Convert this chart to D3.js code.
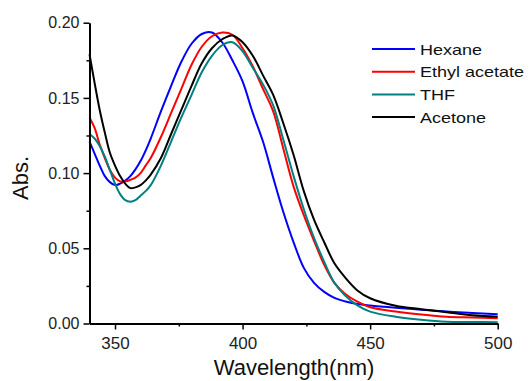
<!DOCTYPE html>
<html>
<head>
<meta charset="utf-8">
<script src="https://cdn.jsdelivr.net/npm/d3@7"></script>
<style>
  body { margin: 0; background: #fff; }
  svg { display: block; font-family: "Liberation Sans", Arial, sans-serif; }
</style>
</head>
<body>
<div id="chart"></div>
<script>
// wavelengths (nm) shared by all series
const wavelengths = [340, 342, 344, 346, 348, 350, 352, 354, 356, 358, 360, 362, 364, 368, 372, 376, 380, 384, 388, 392, 396, 400, 404, 408, 412, 416, 420, 424, 428, 432, 436, 440, 445, 450, 460, 470, 480, 490, 500];

const hexane = [0.121, 0.113, 0.105, 0.098, 0.094, 0.092, 0.093, 0.095, 0.098, 0.1025, 0.108, 0.115, 0.123, 0.141, 0.158, 0.174, 0.186, 0.1925, 0.1935, 0.187, 0.175, 0.161, 0.140, 0.121, 0.097, 0.074, 0.054, 0.037, 0.027, 0.021, 0.017, 0.0148, 0.0130, 0.0120, 0.0105, 0.0092, 0.0079, 0.0070, 0.0061];
const ethylAcetate = [0.137, 0.130, 0.119, 0.110, 0.102, 0.097, 0.0945, 0.0945, 0.0955, 0.097, 0.100, 0.105, 0.110, 0.124, 0.140, 0.156, 0.172, 0.184, 0.191, 0.1935, 0.192, 0.183, 0.171, 0.156, 0.141, 0.116, 0.091, 0.072, 0.055, 0.039, 0.027, 0.020, 0.0145, 0.0108, 0.0080, 0.0060, 0.0045, 0.0040, 0.0035];
const thf = [0.126, 0.123, 0.118, 0.111, 0.102, 0.093, 0.086, 0.082, 0.081, 0.082, 0.085, 0.088, 0.092, 0.105, 0.121, 0.137, 0.152, 0.167, 0.178, 0.185, 0.187, 0.181, 0.170, 0.159, 0.145, 0.122, 0.098, 0.076, 0.057, 0.041, 0.027, 0.019, 0.012, 0.0079, 0.0045, 0.0025, 0.0012, 0.0010, 0.0008];
const acetone = [0.179, 0.160, 0.142, 0.127, 0.1135, 0.105, 0.098, 0.093, 0.090, 0.0905, 0.092, 0.095, 0.099, 0.110, 0.126, 0.142, 0.158, 0.173, 0.183, 0.189, 0.1915, 0.187, 0.178, 0.165, 0.152, 0.133, 0.112, 0.088, 0.069, 0.054, 0.040, 0.031, 0.022, 0.0168, 0.0118, 0.0095, 0.0075, 0.0055, 0.0045];

const seriesNames = ["Hexane", "Ethyl acetate", "THF", "Acetone"];
const seriesColors = ["#0000ff", "#ff0000", "#008080", "#000000"];
const seriesValues = [hexane, ethylAcetate, thf, acetone];

const xTicks = [350, 400, 450, 500];
const xMinorTicks = [375, 425, 475];
const yTicks = [0, 0.05, 0.10, 0.15, 0.20];
const yMinorTicks = [0.025, 0.075, 0.125, 0.175];

const width = 532, height = 381;

const svg = d3.select("#chart")
  .append("svg")
  .attr("width", width)
  .attr("height", height);

// scales
const x = d3.scaleLinear().domain([340, 500]).range([89.5, 497.7]);
const y = d3.scaleLinear().domain([0, 0.2]).range([323.5, 22.7]);

// curves
const line = d3.line()
  .x(d => x(d[0]))
  .y(d => y(d[1]))
  .curve(d3.curveCatmullRom);

seriesValues.forEach((vals, i) => {
  svg.append("path")
    .datum(wavelengths.map((w, j) => [w, vals[j]]))
    .attr("fill", "none")
    .attr("stroke", seriesColors[i])
    .attr("stroke-width", 2)
    .attr("d", line);
});

// axes
const styleAxis = g => {
  g.select(".domain").attr("stroke", "#000").attr("stroke-width", 2);
  g.selectAll(".tick line").attr("stroke", "#000").attr("stroke-width", 1.5);
  g.selectAll(".tick text").attr("fill", "#222");
};

svg.append("g")
  .attr("transform", `translate(0,${y(0)})`)
  .call(d3.axisBottom(x).tickValues(xTicks).tickSize(6).tickSizeOuter(0).tickPadding(7).tickFormat(d3.format("d")))
  .attr("font-size", 17)
  .attr("font-family", null)
  .call(styleAxis);

svg.append("g")
  .attr("transform", `translate(0,${y(0)})`)
  .call(d3.axisBottom(x).tickValues(xMinorTicks).tickSize(3).tickSizeOuter(0).tickFormat(""))
  .call(g => g.select(".domain").remove())
  .call(styleAxis);

svg.append("g")
  .attr("transform", `translate(${x(340)},0)`)
  .call(d3.axisLeft(y).tickValues(yTicks).tickSize(6).tickSizeOuter(0).tickPadding(4).tickFormat(d3.format(".2f")))
  .attr("font-size", 16)
  .attr("font-family", null)
  .call(styleAxis);

svg.append("g")
  .attr("transform", `translate(${x(340)},0)`)
  .call(d3.axisLeft(y).tickValues(yMinorTicks).tickSize(3).tickSizeOuter(0).tickFormat(""))
  .call(g => g.select(".domain").remove())
  .call(styleAxis);

// axis titles
svg.append("text")
  .attr("x", 294)
  .attr("y", 375)
  .attr("text-anchor", "middle")
  .attr("font-size", 22)
  .attr("fill", "#111")
  .text("Wavelength(nm)");

svg.append("text")
  .attr("transform", "translate(28,178) rotate(-90)")
  .attr("text-anchor", "middle")
  .attr("font-size", 22)
  .attr("fill", "#111")
  .text("Abs.");

// legend
const legend = svg.append("g").attr("transform", "translate(372,49)");
seriesNames.forEach((name, i) => {
  const row = legend.append("g").attr("transform", `translate(0,${i * 22.7})`);
  row.append("line")
    .attr("x1", 0).attr("x2", 43)
    .attr("stroke", seriesColors[i])
    .attr("stroke-width", 2);
  const t = row.append("text")
    .attr("x", 48)
    .attr("y", 5.5)
    .attr("font-size", 15)
    .attr("fill", "#111")
    .text(name);
  const w = t.node().getComputedTextLength();
  t.attr("textLength", w * 1.2).attr("lengthAdjust", "spacingAndGlyphs");
});
</script>
</body>
</html>
